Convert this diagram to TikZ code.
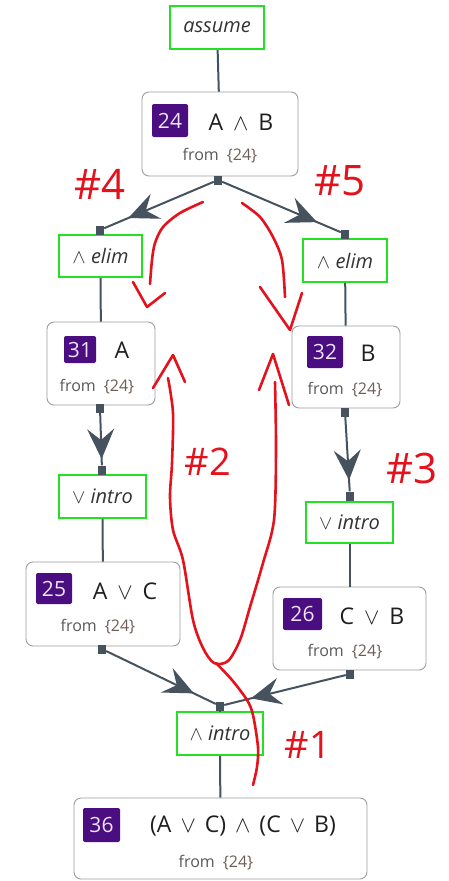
\documentclass[tikz,border=0pt]{standalone}
\usepackage{fix-cm}
\usepackage{fontspec}
\setmainfont{Open Sans}
\usetikzlibrary{arrows.meta,decorations.markings}
\definecolor{edgec}{HTML}{46535E}
\definecolor{rulegreen}{HTML}{22E022}
\definecolor{idpurple}{HTML}{4A0E80}
\definecolor{idtext}{HTML}{EDE4F7}
\definecolor{annot}{HTML}{E3121C}
\definecolor{fromnum}{HTML}{6E5E58}
\newcommand{\myand}{\ensuremath{\wedge}}
\newcommand{\myor}{\ensuremath{\vee}}
\newcommand{\fromtext}{from\hspace{8pt}\textcolor{fromnum}{\{24\}}}
\tikzset{
  proof/.style={draw=black!38, line width=0.9pt, rounded corners=7pt, fill=white, inner sep=0pt},
  rulebox/.style={draw=rulegreen, line width=2.3pt, inner sep=0pt, fill=white,
    font=\itshape\fontsize{20}{20}\selectfont, text=black!80},
  idbox/.style={fill=idpurple, rounded corners=2pt, text=idtext, inner sep=0pt,
    font=\fontsize{21}{21}\selectfont},
  formula/.style={font=\fontsize{23}{23}\selectfont, text=black!88, inner sep=0pt},
  fromtxt/.style={font=\fontsize{16}{16}\selectfont, text=black!65, inner sep=0pt},
  port/.style={fill=edgec, minimum width=8pt, minimum height=9pt, inner sep=0pt},
  conn/.style={draw=edgec, color=edgec, line width=2pt},
  midarrow/.style={postaction={decorate}, decoration={markings,
    mark=at position #1 with {\arrow{Stealth[length=30pt,width=27pt,inset=11pt]}}}},
  redline/.style={draw=annot, line width=2.6pt, line cap=round, line join=round},
  redtext/.style={text=annot, inner sep=0pt, font=\fontsize{42}{42}\selectfont}
}
\begin{document}
\begin{tikzpicture}[x=1pt,y=-1pt]
\useasboundingbox (0,0) rectangle (449,881);
\fill[white] (0,0) rectangle (449,881);

% rule boxes
\node[rulebox, minimum width=94pt, minimum height=43pt] (assume) at (217,27.5) {assume};
\node[rulebox, minimum width=83pt, minimum height=42pt] (elimL) at (100.5,256) {\myand\ elim};
\node[rulebox, minimum width=84pt, minimum height=43pt] (elimR) at (345,260.5) {\myand\ elim};
\node[rulebox, minimum width=87pt, minimum height=43pt] (vintroL) at (102.5,496.5) {\myor\ intro};
\node[rulebox, minimum width=87pt, minimum height=41pt] (vintroR) at (349.5,522.5) {\myor\ intro};
\node[rulebox, minimum width=86pt, minimum height=43pt] (aintro) at (220,733.5) {\myand\ intro};

% proof nodes
\node[proof, minimum width=156pt, minimum height=84pt] (n24) at (220,134) {};
\node[idbox, minimum width=36pt, minimum height=33pt] (id24) at (170,120.5) {24};
\node[formula] (f24) at (241,122) {A\hspace{10pt}\myand\hspace{10pt}B};
\node[fromtxt] (fr24) at (220,156) {\fromtext};

\node[proof, minimum width=108pt, minimum height=83pt] (n31) at (101,363.5) {};
\node[idbox, minimum width=32pt, minimum height=27pt] (id31) at (80,349.5) {31};
\node[formula] (f31) at (122,350) {A};
\node[fromtxt] (fr31) at (97,387) {\fromtext};

\node[proof, minimum width=108pt, minimum height=82pt] (n32) at (346,367) {};
\node[idbox, minimum width=36pt, minimum height=32pt] (id32) at (325,352) {32};
\node[formula] (f32) at (368,353) {B};
\node[fromtxt] (fr32) at (345,390) {\fromtext};

\node[proof, minimum width=154pt, minimum height=84pt] (n25) at (103,604) {};
\node[idbox, minimum width=36pt, minimum height=31pt] (id25) at (54,588.5) {25};
\node[formula] (f25) at (125,591) {A\hspace{10pt}\myor\hspace{10pt}C};
\node[fromtxt] (fr25) at (98,627) {\fromtext};

\node[proof, minimum width=153pt, minimum height=83pt] (n26) at (349.5,628.5) {};
\node[idbox, minimum width=39pt, minimum height=32pt] (id26) at (302.5,614) {26};
\node[formula] (f26) at (372,616) {C\hspace{10pt}\myor\hspace{10pt}B};
\node[fromtxt] (fr26) at (345,652) {\fromtext};

\node[proof, minimum width=293pt, minimum height=81pt] (n36) at (220.5,838.5) {};
\node[idbox, minimum width=37pt, minimum height=34pt] (id36) at (101.5,825) {36};
\node[formula] (f36) at (243,826) {(A\hspace{9pt}\myor\hspace{9pt}C)\hspace{9pt}\myand\hspace{9pt}(C\hspace{9pt}\myor\hspace{9pt}B)};
\node[fromtxt] (fr36) at (216,863) {\fromtext};

% ports
\node[port] (p24) at (218,180) {};
\node[port] (pEL) at (100,230) {};
\node[port] (pER) at (345,234) {};
\node[port] (p31) at (100,408) {};
\node[port] (pVL) at (102,470) {};
\node[port] (p32) at (345,412) {};
\node[port] (pVR) at (350,496) {};
\node[port] (p25) at (102,649) {};
\node[port] (p26) at (350,674) {};
\node[port] (pAI) at (220,706) {};

% connectors
\draw[conn] (assume) -- (n24);
\draw[conn, midarrow=0.78] (p24) -- (pEL);
\draw[conn, midarrow=0.8] (p24) -- (pER);
\draw[conn] (pEL) -- (elimL);
\draw[conn] (pER) -- (elimR);
\draw[conn] (elimL) -- (n31);
\draw[conn] (elimR) -- (n32);
\draw[conn, midarrow=0.88] (p31) -- (pVL);
\draw[conn, midarrow=0.85] (p32) -- (pVR);
\draw[conn] (pVL) -- (vintroL);
\draw[conn] (pVR) -- (vintroR);
\draw[conn] (vintroL) -- (n25);
\draw[conn] (vintroR) -- (n26);
\draw[conn, midarrow=0.8] (p25) -- (pAI);
\draw[conn, midarrow=0.78] (p26) -- (pAI);
\draw[conn] (pAI) -- (aintro);
\draw[conn] (aintro) -- (n36);

% red annotations
\draw[redline] plot[smooth] coordinates {(203,202) (180,213) (163,227) (155,243) (152,260) (150,284)};
\draw[redline] (133,282) -- (147,307) -- (165,293);
\draw[redline] plot[smooth] coordinates {(242,203) (260,217) (273,237) (282,260) (285,297)};
\draw[redline] (260,287) -- (290,330) -- (302,293);
\draw[redline] plot[smooth] coordinates {(168,378) (173,413) (172,463) (170,497) (173,530) (183,560) (193,620) (203,648) (214,663) (228,661) (240,640) (250,607) (263,563) (274,520) (276,450) (275,382)};
\draw[redline] plot[smooth] coordinates {(216,663) (232,680) (247,700) (253,715) (258,747) (257,767) (253,785)};
\draw[redline] (153,388) -- (173,355) -- (185,382);
\draw[redline] (259,390) -- (273,354) -- (289,405);
\node[redtext] (h4) at (100,184) {\#4};
\node[redtext] (h5) at (340,181) {\#5};
\node[redtext, font=\fontsize{38}{38}\selectfont] (h2) at (208,462) {\#2};
\node[redtext] (h3) at (412,468) {\#3};
\node[redtext, font=\fontsize{38}{38}\selectfont] (h1) at (308,745) {\#1};
\end{tikzpicture}
\end{document}
